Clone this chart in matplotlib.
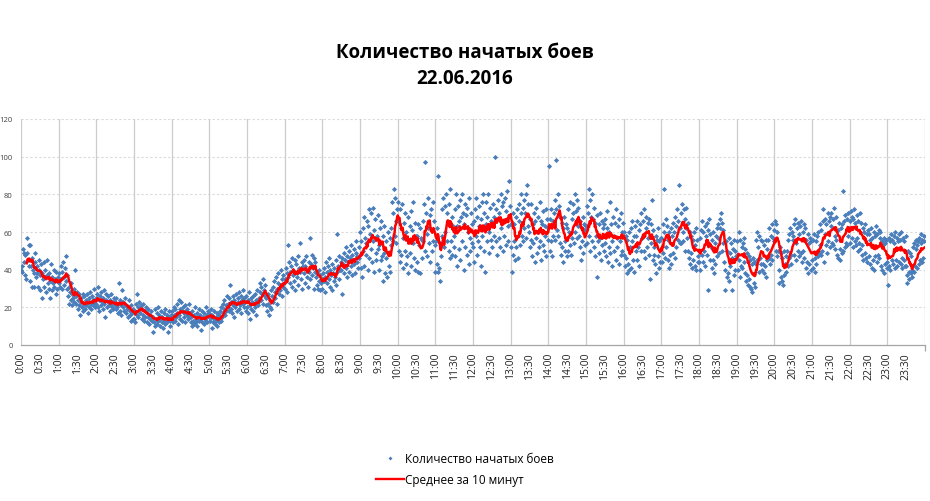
import matplotlib
matplotlib.use("Agg")
import matplotlib.pyplot as plt
from matplotlib.lines import Line2D
import numpy as np
import pandas as pd

plt.rcParams['font.family'] = ['Open Sans', 'DejaVu Sans']

title = "Количество начатых боев\n22.06.2016"
series_points_name = "Количество начатых боев"
series_avg_name = "Среднее за 10 минут"
window = 10

# One row per half hour, one value per minute
battles_rows = [
    [40, 39, 42, 51, 49, 44, 48, 37, 35, 49, 57, 45, 42, 53, 34, 53, 42, 31, 46, 40, 38, 31, 44, 49, 36, 42, 38, 31, 45, 40],
    [37, 29, 43, 38, 25, 35, 44, 31, 36, 40, 28, 37, 45, 33, 30, 38, 25, 34, 43, 36, 29, 33, 40, 31, 35, 27, 39, 34, 30, 36],
    [33, 38, 31, 42, 35, 30, 39, 44, 32, 36, 41, 34, 47, 30, 37, 26, 22, 31, 28, 24, 33, 21, 27, 25, 30, 23, 40, 26, 22, 28],
    [24, 19, 27, 21, 16, 25, 23, 20, 27, 18, 22, 26, 19, 24, 21, 27, 17, 23, 25, 20, 28, 22, 19, 26, 24, 21, 30, 23, 20, 25],
    [22, 27, 31, 20, 24, 18, 26, 21, 28, 23, 19, 25, 29, 22, 15, 24, 27, 20, 23, 26, 21, 24, 18, 22, 27, 20, 23, 19, 25, 21],
    [23, 19, 25, 20, 17, 22, 33, 18, 24, 21, 16, 29, 20, 23, 18, 22, 25, 17, 21, 19, 15, 20, 24, 16, 18, 13, 21, 17, 14, 19],
    [14, 18, 12, 22, 27, 16, 20, 15, 23, 19, 17, 21, 14, 19, 16, 22, 13, 18, 15, 20, 12, 17, 15, 19, 11, 16, 14, 18, 13, 15],
    [7, 15, 12, 19, 10, 14, 17, 11, 20, 13, 16, 10, 14, 18, 12, 15, 9, 17, 13, 11, 19, 14, 16, 12, 7, 15, 18, 13, 10, 16],
    [14, 18, 12, 20, 16, 13, 19, 15, 22, 17, 11, 24, 16, 19, 14, 23, 18, 13, 20, 15, 17, 21, 12, 18, 16, 19, 14, 22, 15, 17],
    [12, 15, 10, 18, 13, 16, 11, 20, 14, 12, 17, 10, 15, 19, 13, 16, 8, 14, 18, 12, 15, 11, 17, 14, 20, 13, 16, 12, 18, 15],
    [17, 13, 19, 15, 9, 16, 12, 18, 14, 11, 15, 13, 17, 10, 14, 12, 16, 18, 13, 20, 15, 22, 17, 19, 24, 16, 21, 18, 26, 20],
    [22, 18, 25, 32, 19, 23, 17, 26, 21, 24, 15, 20, 27, 22, 18, 25, 23, 28, 19, 21, 26, 17, 24, 22, 29, 20, 25, 23, 18, 26],
    [20, 24, 17, 28, 21, 14, 25, 19, 23, 26, 18, 22, 27, 20, 24, 16, 29, 23, 21, 25, 28, 33, 24, 31, 27, 22, 35, 29, 26, 32],
    [21, 25, 18, 27, 22, 16, 24, 20, 29, 19, 26, 31, 23, 34, 28, 25, 36, 30, 22, 33, 38, 27, 32, 29, 40, 35, 26, 31, 37, 33],
    [35, 30, 41, 38, 28, 53, 36, 44, 33, 39, 42, 31, 46, 37, 40, 34, 45, 29, 43, 38, 36, 47, 32, 41, 39, 54, 35, 44, 30, 42],
    [38, 45, 33, 42, 47, 36, 40, 31, 44, 39, 57, 35, 43, 48, 37, 41, 30, 46, 39, 44, 36, 32, 38, 30, 34, 40, 29, 37, 33, 35],
    [30, 38, 34, 41, 28, 36, 44, 33, 39, 42, 35, 46, 31, 40, 37, 29, 43, 38, 34, 41, 36, 32, 45, 39, 59, 42, 35, 47, 40, 44],
    [40, 46, 27, 43, 49, 38, 45, 52, 41, 36, 47, 44, 50, 39, 46, 42, 53, 37, 48, 45, 51, 43, 38, 49, 55, 44, 47, 41, 52, 46],
    [60, 41, 55, 36, 62, 50, 68, 42, 57, 48, 54, 66, 40, 63, 72, 46, 59, 51, 70, 44, 73, 55, 39, 61, 67, 49, 45, 58, 69, 51],
    [53, 40, 62, 45, 66, 47, 58, 34, 49, 63, 38, 55, 46, 36, 60, 49, 42, 57, 39, 53, 62, 76, 55, 70, 83, 58, 78, 66, 54, 72],
    [76, 66, 50, 72, 44, 62, 48, 75, 57, 41, 65, 50, 70, 43, 60, 47, 68, 38, 56, 63, 49, 71, 42, 61, 54, 76, 46, 65, 40, 58],
    [58, 44, 64, 39, 53, 62, 38, 57, 46, 56, 66, 55, 75, 97, 50, 70, 59, 47, 78, 62, 54, 69, 44, 72, 61, 50, 76, 55, 66, 53],
    [39, 55, 43, 62, 90, 39, 41, 54, 34, 47, 58, 72, 57, 78, 52, 74, 60, 80, 55, 70, 64, 50, 75, 46, 83, 55, 68, 48, 63, 52],
    [58, 72, 47, 80, 63, 42, 74, 51, 66, 77, 45, 68, 55, 80, 70, 40, 64, 75, 52, 69, 48, 73, 60, 43, 78, 57, 50, 70, 64, 54],
    [52, 66, 44, 72, 58, 78, 48, 68, 55, 63, 74, 52, 67, 42, 76, 58, 80, 50, 70, 39, 64, 76, 55, 68, 80, 60, 49, 73, 66, 56],
    [65, 52, 75, 68, 58, 100, 55, 72, 48, 67, 77, 57, 70, 52, 80, 62, 74, 50, 76, 66, 58, 78, 53, 71, 82, 63, 55, 87, 68, 74],
    [64, 52, 39, 70, 48, 64, 55, 45, 68, 52, 72, 58, 46, 66, 75, 53, 70, 80, 58, 73, 55, 77, 62, 70, 80, 57, 85, 63, 75, 60],
    [52, 67, 56, 75, 47, 64, 54, 70, 44, 66, 57, 73, 49, 68, 60, 52, 76, 55, 66, 45, 64, 53, 71, 50, 63, 58, 72, 47, 67, 56],
    [62, 95, 50, 67, 55, 72, 47, 66, 58, 70, 77, 56, 98, 72, 61, 80, 58, 74, 68, 54, 48, 65, 52, 62, 44, 68, 55, 50, 64, 47],
    [62, 50, 72, 60, 53, 76, 48, 67, 57, 70, 75, 54, 80, 60, 71, 57, 77, 63, 73, 58, 52, 66, 45, 62, 55, 68, 49, 64, 53, 61],
    [63, 74, 54, 70, 83, 58, 77, 50, 68, 80, 55, 67, 52, 73, 47, 65, 58, 36, 69, 55, 64, 49, 70, 57, 45, 66, 53, 62, 50, 64],
    [54, 67, 47, 62, 71, 44, 60, 52, 76, 49, 64, 55, 42, 68, 58, 50, 65, 45, 72, 57, 52, 63, 43, 67, 55, 48, 70, 60, 50, 65],
    [60, 48, 42, 58, 46, 38, 56, 43, 60, 40, 52, 62, 41, 55, 66, 45, 58, 39, 63, 50, 58, 45, 66, 52, 61, 42, 64, 50, 70, 57],
    [58, 66, 50, 72, 46, 62, 68, 52, 65, 57, 67, 48, 35, 64, 54, 77, 45, 61, 52, 48, 43, 58, 38, 56, 47, 62, 41, 55, 44, 57],
    [57, 44, 64, 49, 83, 60, 46, 67, 52, 63, 45, 56, 41, 60, 48, 62, 43, 58, 65, 49, 60, 68, 46, 63, 52, 72, 56, 66, 85, 54],
    [62, 70, 54, 75, 60, 55, 72, 50, 67, 62, 73, 57, 50, 65, 46, 60, 43, 58, 49, 41, 56, 45, 60, 42, 53, 62, 40, 56, 47, 44],
    [44, 57, 40, 61, 48, 66, 44, 60, 50, 63, 42, 58, 65, 48, 61, 29, 67, 45, 59, 52, 41, 56, 45, 60, 38, 54, 43, 58, 47, 62],
    [57, 64, 49, 62, 67, 70, 50, 65, 54, 61, 44, 29, 40, 55, 36, 50, 38, 57, 34, 49, 42, 54, 29, 46, 51, 37, 56, 40, 50, 47],
    [48, 55, 40, 60, 45, 36, 56, 42, 52, 41, 54, 44, 57, 38, 51, 34, 49, 37, 32, 47, 35, 31, 45, 30, 43, 28, 46, 33, 44, 31],
    [43, 56, 45, 60, 52, 39, 58, 46, 56, 43, 40, 55, 43, 38, 53, 42, 56, 36, 51, 45, 56, 46, 62, 43, 58, 48, 64, 45, 57, 55],
    [61, 66, 50, 64, 60, 47, 50, 40, 33, 52, 36, 49, 34, 46, 32, 50, 37, 43, 47, 39, 50, 56, 42, 59, 46, 62, 48, 43, 60, 56],
    [58, 64, 48, 67, 54, 45, 62, 50, 65, 47, 59, 63, 49, 66, 44, 60, 50, 64, 46, 62, 41, 56, 44, 59, 38, 54, 43, 57, 40, 55],
    [45, 56, 41, 59, 46, 39, 55, 43, 58, 47, 60, 49, 53, 64, 48, 61, 50, 66, 72, 44, 59, 67, 53, 64, 49, 70, 55, 66, 52, 68],
    [63, 70, 54, 67, 53, 73, 58, 51, 68, 56, 48, 61, 46, 65, 51, 45, 62, 49, 64, 82, 50, 66, 52, 69, 54, 67, 53, 70, 58, 62],
    [66, 54, 71, 57, 68, 52, 67, 72, 55, 65, 53, 69, 57, 50, 66, 54, 70, 51, 65, 53, 48, 62, 45, 60, 49, 64, 46, 59, 44, 61],
    [47, 59, 43, 56, 62, 41, 57, 45, 60, 40, 58, 47, 63, 44, 59, 48, 61, 46, 57, 60, 42, 55, 40, 53, 57, 38, 54, 43, 56, 41],
    [44, 32, 57, 42, 55, 40, 59, 45, 56, 43, 54, 58, 41, 60, 45, 57, 42, 55, 59, 44, 56, 43, 60, 46, 41, 57, 45, 55, 42, 58],
    [42, 37, 33, 50, 39, 35, 49, 38, 47, 36, 40, 52, 39, 54, 42, 51, 56, 41, 53, 55, 43, 57, 45, 54, 59, 44, 56, 46, 55, 58],
]

tick_labels = [f"{h}:{m:02d}" for h in range(24) for m in (0, 30)]
y_ticks = [0, 20, 40, 60, 80, 100, 120]

battles = np.array([v for row in battles_rows for v in row], dtype=float)
minutes = np.arange(len(battles))
avg = pd.Series(battles).rolling(window).mean().to_numpy()

fig = plt.figure(figsize=(9.3, 5.02), dpi=100)
ax = fig.add_axes([21 / 930, 1 - 346 / 502, 904 / 930, 226 / 502])

ax.set_xlim(0, 1440)
ax.set_ylim(0, 120)

# gridlines
for yv in y_ticks[1:]:
    ax.axhline(yv, color='#d9d9d9', lw=0.8, ls=(0, (2, 2)), zorder=0)
for hv in range(0, 1441, 60):
    ax.axvline(hv, color='#cccccc', lw=0.9, zorder=0)

ax.scatter(minutes, battles, marker='D', s=7, color='#4A7EBB', linewidths=0, zorder=2)
ax.plot(minutes, avg, color='#FF0000', lw=1.8, zorder=3)

for s in ['top', 'right', 'left']:
    ax.spines[s].set_visible(False)
ax.spines['bottom'].set_color('#a6a6a6')
ax.spines['bottom'].set_linewidth(0.9)

ax.set_yticks(y_ticks)
ax.set_yticklabels([str(v) for v in y_ticks], fontsize=5.5, color='#404040')
ax.tick_params(axis='y', length=0, pad=6)

ax.set_xticks(np.arange(0, 1440, 30))
ax.set_xticklabels(tick_labels, rotation=90, fontsize=7.5, color='#202020')
ax.tick_params(axis='x', length=0, pad=5)
ax.set_xticks(np.arange(0, 1441, 60), minor=True)
ax.tick_params(axis='x', which='minor', length=4, color='#a6a6a6', width=0.9)

fig.text(0.5, 1 - 66 / 502, title, ha='center', va='center', fontsize=13.5,
         fontweight='bold', linespacing=1.35, color='#000000')

handles = [
    Line2D([], [], ls='none', marker='D', ms=2.0, color='#4A7EBB', mec='none'),
    Line2D([], [], color='#FF0000', lw=1.7),
]
fig.legend(handles, [series_points_name, series_avg_name], loc='center',
           bbox_to_anchor=(0.5, 1 - 470 / 502), frameon=False, fontsize=8.5,
           handlelength=2.4, handletextpad=0.1, labelspacing=0.65)

fig.savefig('out.png', dpi=100, facecolor='white')
